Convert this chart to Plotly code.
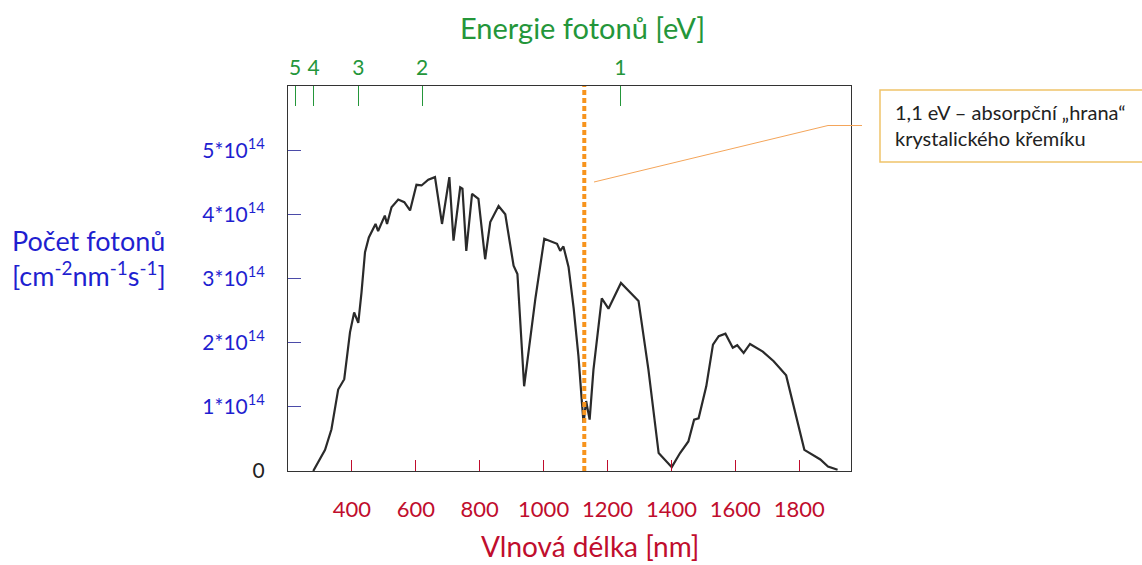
import plotly.graph_objects as go

# ---------------- data ----------------
wavelength_nm = [279, 295, 316, 336, 357, 376, 383, 394, 407, 420,
                 430, 441, 453, 474, 482, 503, 510, 524, 545, 564,
                 582, 602, 618, 639, 660, 682, 705, 718, 739, 746,
                 758, 776, 796, 817, 833, 859, 880, 906, 918, 939,
                 974, 1002, 1042, 1052, 1062, 1078, 1094, 1109, 1120, 1125,
                 1133, 1144, 1156, 1182, 1203, 1242, 1297, 1328, 1360, 1401,
                 1427, 1453, 1471, 1485, 1509, 1530, 1548, 1569, 1592, 1606,
                 1626, 1646, 1686, 1720, 1759, 1787, 1816, 1866, 1890, 1920]
photons_e14 = [0.0, 0.15, 0.33, 0.65, 1.27, 1.43, 1.74, 2.16, 2.47, 2.31,
               2.78, 3.41, 3.64, 3.85, 3.74, 3.98, 3.85, 4.11, 4.23, 4.19,
               4.06, 4.46, 4.45, 4.54, 4.58, 3.85, 4.58, 3.59, 4.42, 4.40,
               3.43, 4.32, 4.24, 3.30, 3.88, 4.13, 4.00, 3.20, 3.07, 1.32,
               2.68, 3.62, 3.54, 3.43, 3.50, 3.18, 2.54, 1.79, 1.06, 0.75,
               1.09, 0.80, 1.58, 2.69, 2.53, 2.93, 2.65, 1.58, 0.28, 0.06,
               0.28, 0.46, 0.80, 0.82, 1.32, 1.97, 2.10, 2.14, 1.92, 1.96,
               1.84, 1.98, 1.86, 1.71, 1.49, 0.90, 0.33, 0.18, 0.07, 0.02]
photons = [v * 1e14 for v in photons_e14]

x_tick_values = [400, 600, 800, 1000, 1200, 1400, 1600, 1800]
x_tick_labels = [str(v) for v in x_tick_values]

energy_tick_labels = ["5", "4", "3", "2", "1"]
energy_tick_nm = [222, 280, 420, 620, 1240]   # positions as drawn in the reference

y_tick_values = [0, 1e14, 2e14, 3e14, 4e14, 5e14]
y_tick_labels = ["<span style='color:#222222'>0</span>",
                 "1*10<sup>14</sup>", "2*10<sup>14</sup>", "3*10<sup>14</sup>",
                 "4*10<sup>14</sup>", "5*10<sup>14</sup>"]

si_edge_ev = 1.1
si_edge_nm = 1240 / si_edge_ev

x_range = [200, 1962]
y_range = [0, 6e14]

# ---------------- styling ----------------
W, H = 1142, 565
L, R, T, B = 288, 851, 86, 471
FONT = "Lato"
GREEN = "#24963a"
RED = "#c00d2d"
BLUE = "#1f1fd0"
ORANGE = "#f7941d"


def px(x):
    return (x - L) / (R - L)


def py(y):
    return (B - y) / (B - T)


fig = go.Figure()
fig.add_trace(go.Scatter(x=wavelength_nm, y=photons, mode="lines",
                         line=dict(color="#2a2a2a", width=2.2),
                         showlegend=False, hoverinfo="skip"))
fig.add_trace(go.Scatter(x=energy_tick_nm, y=[None] * len(energy_tick_nm),
                         mode="lines", xaxis="x2", showlegend=False,
                         hoverinfo="skip"))

fig.update_layout(
    width=W, height=H,
    margin=dict(l=L, r=W - R, t=T, b=H - B, pad=0),
    paper_bgcolor="white", plot_bgcolor="white",
    font=dict(family=FONT, color="#222222"),
    showlegend=False,
    xaxis=dict(range=x_range, tickvals=x_tick_values, ticktext=x_tick_labels,
               ticks="inside", ticklen=11, tickwidth=1, tickcolor=RED,
               tickfont=dict(size=22, color=RED, family=FONT),
               ticklabelstandoff=19,
               showgrid=False, zeroline=False,
               showline=True, linecolor="#333333", linewidth=1, mirror=True),
    xaxis2=dict(range=x_range, overlaying="x", side="top", anchor="y",
                tickvals=energy_tick_nm, ticktext=energy_tick_labels,
                ticks="inside", ticklen=20, tickwidth=1, tickcolor=GREEN,
                tickfont=dict(size=21, color=GREEN, family=FONT),
                ticklabelstandoff=6,
                showgrid=False, zeroline=False, showline=False),
    yaxis=dict(range=y_range, tickvals=y_tick_values, ticktext=y_tick_labels,
               ticks="inside", ticklen=13, tickwidth=1, tickcolor="#4b4ba8",
               tickfont=dict(size=21, color=BLUE, family=FONT),
               ticklabelstandoff=18,
               showgrid=False, zeroline=False,
               showline=True, linecolor="#333333", linewidth=1, mirror=True),
)

fig.add_shape(type="line", xref="x", yref="paper",
              x0=si_edge_nm, x1=si_edge_nm, y0=0, y1=1,
              line=dict(color=ORANGE, width=4, dash="5px,3px"))

fig.add_shape(type="path", xref="paper", yref="paper",
              path=f"M {px(594)} {py(182)} L {px(828)} {py(125.5)} L {px(862)} {py(125.5)}",
              line=dict(color="#f4a55a", width=1))

fig.add_shape(type="rect", xref="paper", yref="paper",
              x0=px(880), x1=px(1150), y0=py(162), y1=py(90),
              line=dict(color="#f0c36a", width=1.5), fillcolor="white")

fig.add_annotation(xref="paper", yref="paper", x=px(893), y=py(125),
                   xanchor="left", yanchor="middle", align="left",
                   text="1,1 eV – absorpční „hrana“<br>krystalického křemíku",
                   showarrow=False, font=dict(size=20, color="#222222", family=FONT))

fig.add_annotation(xref="paper", yref="paper", x=px(582), y=py(28),
                   xanchor="center", yanchor="middle",
                   text="Energie fotonů [eV]", showarrow=False,
                   font=dict(size=29, color=GREEN, family=FONT))

fig.add_annotation(xref="paper", yref="paper", x=px(590), y=py(546),
                   xanchor="center", yanchor="middle",
                   text="Vlnová délka [nm]", showarrow=False,
                   font=dict(size=28, color=RED, family=FONT))

fig.add_annotation(xref="paper", yref="paper", x=px(10), y=py(258),
                   xanchor="left", yanchor="middle", align="left",
                   text="Počet fotonů<br>[cm<sup>-2</sup>nm<sup>-1</sup>s<sup>-1</sup>]",
                   showarrow=False,
                   font=dict(size=27, color=BLUE, family=FONT))

fig.write_html("out.html")
